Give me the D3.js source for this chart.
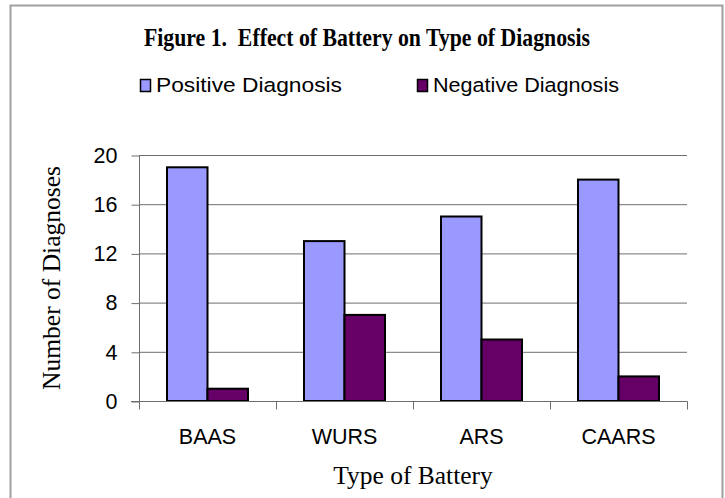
<!DOCTYPE html>
<html>
<head>
<script src="https://d3js.org/d3.v7.min.js"></script>
<style>
body { margin: 0; background: #fff; }
</style>
</head>
<body>
<svg width="725" height="498"></svg>
<script>
// chart data
var batteries = ["BAAS", "WURS", "ARS", "CAARS"];
var seriesNames = ["Positive Diagnosis", "Negative Diagnosis"];
var positive = [19, 13, 15, 18];
var negative = [1, 7, 5, 2];
var yTicks = [0, 4, 8, 12, 16, 20];
var colors = ["#9999ff", "#660066"];

var svg = d3.select("svg");

// outer frame of the chart
svg.append("rect")
  .attr("x", 10.5).attr("y", 5.5)
  .attr("width", 712).attr("height", 520)
  .attr("fill", "none").attr("stroke", "#a0a0a0").attr("stroke-width", 2);

// plot area (window.top is reserved, so use plotTop)
var plotLeft = 139, plotRight = 687, plotTop = 155, plotBottom = 401;

var x = d3.scaleBand().domain(batteries).range([plotLeft, plotRight]);
var y = d3.scaleLinear().domain([0, 20]).range([plotBottom, plotTop]);
var barW = 40.5;

// gridlines
svg.append("g").selectAll("line")
  .data(yTicks.slice(1))
  .enter().append("line")
  .attr("x1", plotLeft).attr("x2", plotRight)
  .attr("y1", function (d) { return y(d) + 0.5; })
  .attr("y2", function (d) { return y(d) + 0.5; })
  .attr("stroke", "#6e6e6e").attr("stroke-width", 1);

// bars
var rows = batteries.map(function (b, i) { return [positive[i], negative[i]]; });
var groups = svg.append("g").selectAll("g")
  .data(rows)
  .enter().append("g");

groups.selectAll("rect")
  .data(function (d, i) { return d.map(function (v, j) { return { v: v, j: j, b: batteries[i] }; }); })
  .enter().append("rect")
  .attr("x", function (d) { return x(d.b) + x.bandwidth() / 2 - barW + d.j * barW; })
  .attr("y", function (d) { return y(d.v); })
  .attr("width", barW)
  .attr("height", function (d) { return plotBottom - y(d.v); })
  .attr("fill", function (d) { return colors[d.j]; })
  .attr("stroke", "#000").attr("stroke-width", 2);

// y axis
var yAxis = svg.append("g")
  .attr("transform", "translate(" + (plotLeft + 0.5) + ",0.5)")
  .call(d3.axisLeft(y).tickValues(yTicks).tickSize(8).tickPadding(14).tickFormat(d3.format("d")));
yAxis.select(".domain").attr("stroke", "#6e6e6e").attr("d", "M0," + (plotTop - 0.5) + "V" + (plotBottom + 8));
yAxis.selectAll(".tick line").attr("stroke", "#6e6e6e");
yAxis.selectAll("text")
  .attr("font-family", "Liberation Sans, Arial, sans-serif")
  .attr("font-size", 21.5).attr("fill", "#000");

// x axis
var xAxis = svg.append("g")
  .attr("transform", "translate(0," + (plotBottom + 0.5) + ")")
  .call(d3.axisBottom(x).tickSize(0).tickPadding(27));
xAxis.select(".domain").attr("stroke", "#6e6e6e").attr("d", "M" + (plotLeft - 8) + ",0H" + (plotRight + 0.5));
xAxis.selectAll("text")
  .attr("font-family", "Liberation Sans, Arial, sans-serif")
  .attr("font-size", 21.5).attr("fill", "#000");
// category separator ticks
xAxis.append("g").selectAll("line")
  .data(batteries)
  .enter().append("line")
  .attr("x1", function (d) { return x(d) + x.bandwidth() + 0.5; })
  .attr("x2", function (d) { return x(d) + x.bandwidth() + 0.5; })
  .attr("y1", 0).attr("y2", 8)
  .attr("stroke", "#6e6e6e");

// titles
svg.append("text")
  .attr("x", 367).attr("y", 46)
  .attr("text-anchor", "middle")
  .attr("font-family", "Liberation Serif, Times New Roman, serif")
  .attr("font-weight", "bold").attr("font-size", 25)
  .attr("textLength", 446).attr("lengthAdjust", "spacingAndGlyphs")
  .style("white-space", "pre")
  .text("Figure 1.  Effect of Battery on Type of Diagnosis");

svg.append("text")
  .attr("transform", "translate(59.5," + ((plotTop + plotBottom) / 2) + ") rotate(-90)")
  .attr("text-anchor", "middle")
  .attr("font-family", "Liberation Serif, Times New Roman, serif")
  .attr("font-size", 25.5)
  .text("Number of Diagnoses");

svg.append("text")
  .attr("x", (plotLeft + plotRight) / 2).attr("y", 484)
  .attr("text-anchor", "middle")
  .attr("font-family", "Liberation Serif, Times New Roman, serif")
  .attr("font-size", 25.5)
  .text("Type of Battery");

// legend
var legendX = [140, 417];
var legend = svg.append("g").selectAll("g")
  .data(seriesNames)
  .enter().append("g")
  .attr("transform", function (d, i) { return "translate(" + legendX[i] + ",79)"; });
legend.append("rect")
  .attr("x", 0.5).attr("y", 0.5).attr("width", 10).attr("height", 12)
  .attr("fill", function (d, i) { return colors[i]; })
  .attr("stroke", "#000").attr("stroke-width", 1.5);
legend.append("text")
  .attr("x", 16).attr("y", 13)
  .attr("font-family", "Liberation Sans, Arial, sans-serif")
  .attr("font-size", 20.5)
  .attr("textLength", 186).attr("lengthAdjust", "spacingAndGlyphs")
  .text(function (d) { return d; });
</script>
</body>
</html>
